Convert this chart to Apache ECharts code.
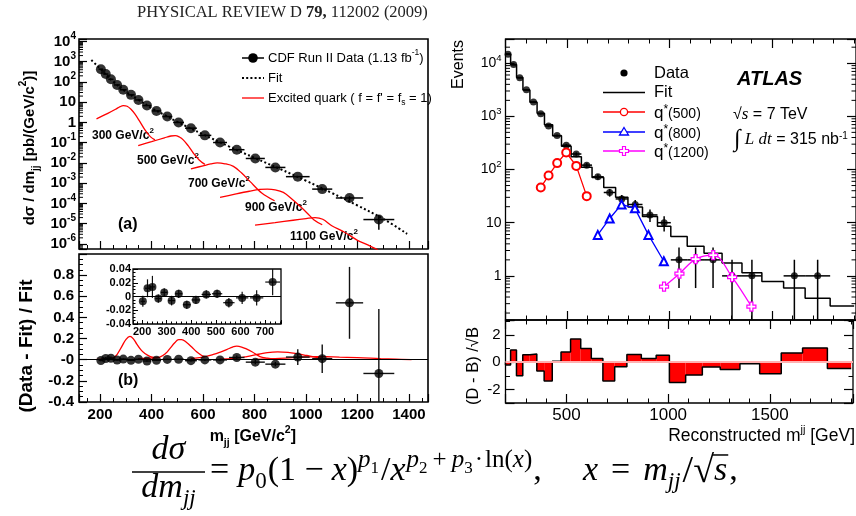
<!DOCTYPE html>
<html>
<head>
<meta charset="utf-8">
<title>Dijet mass spectra: CDF and ATLAS excited-quark searches</title>
<script src="https://cdn.jsdelivr.net/npm/echarts@6.0.0/dist/echarts.min.js"></script>
<style>
html, body { margin: 0; padding: 0; background: #fff; }
#chart { width: 856px; height: 516px; }
</style>
</head>
<body>
<div id="chart"></div>
<script>
const SANS = '"Liberation Sans", Arial, Helvetica, sans-serif';
const SERIF = '"Liberation Serif", "Times New Roman", serif';

// ---------------- CDF Run II (1.13 fb^-1) ----------------
const cdfMass = [203, 222, 242, 266, 290, 320, 349, 382, 419, 461, 505, 553, 607, 666, 731, 803, 881, 968, 1063, 1169, 1283];
const cdfHalfBin = [9, 10, 10, 12, 13, 14, 15, 16, 18, 19, 21, 23, 25, 27, 30, 37, 39, 46, 39, 53, 60];
const cdfXsec = [427, 245, 135, 71, 41, 23, 12.9, 6.8, 3.7, 1.95, 1.0, 0.52, 0.23, 0.102, 0.045, 0.0166, 0.0060, 0.0021, 5.1e-4, 1.86e-4, 1.6e-5];
const cdfXsecErr = [3.4, 3.2, 2.2, 0.43, 0.25, 0.16, 0.08, 0.041, 0.022, 0.012, 0.006, 0.0036, 0.0021, 0.0011, 0.00086, 3.4e-4, 1.2e-4, 1.6e-4, 6.9e-5, 4.2e-5, 1.1e-5];
// (Data - Fit) / Fit
const cdfResid = [-0.007, 0.012, 0.014, -0.003, 0.006, -0.006, 0.004, -0.012, -0.005, 0.003, 0.004, -0.009, -0.002, -0.002, 0.021, -0.023, -0.042, 0.025, 0.010, 0.538, -0.13];
const cdfResidErr = [0.008, 0.013, 0.016, 0.006, 0.006, 0.007, 0.006, 0.006, 0.006, 0.006, 0.006, 0.007, 0.009, 0.011, 0.019, 0.02, 0.02, 0.075, 0.135, 0.34, 0.61];
const insetPoints = 15;

// fitted spectrum
const fitMass = [166, 200, 250, 300, 350, 400, 450, 500, 600, 700, 800, 900, 1000, 1100, 1200, 1300, 1393];
const fitXsec = [1200, 457, 107, 33, 12.9, 5.1, 2.34, 1.07, 0.257, 0.066, 0.0178, 0.0050, 1.32e-3, 3.3e-4, 7.9e-5, 1.74e-5, 3.16e-6];

// excited quark signals, dsigma/dm
const q300Mass = [186, 230, 260, 278, 290, 305, 320, 335, 354, 375, 395, 413];
const q300Xsec = [1.51, 2.82, 4.47, 6.03, 6.76, 6.31, 4.47, 2.63, 1.12, 0.417, 0.20, 0.138];
const q500Mass = [348, 400, 450, 475, 492, 508, 523, 542, 562, 585, 607];
const q500Xsec = [0.072, 0.112, 0.174, 0.214, 0.224, 0.19, 0.138, 0.071, 0.031, 0.0141, 0.0085];
const q700Mass = [553, 600, 630, 655, 685, 718, 750, 782, 828, 878];
const q700Xsec = [5.1e-3, 7.2e-3, 8.9e-3, 1.0e-2, 9.1e-3, 6.8e-3, 3.16e-3, 1.23e-3, 3.3e-4, 1.35e-4];
const q900Mass = [666, 720, 780, 820, 850, 880, 912, 945, 977, 1005, 1030, 1063];
const q900Xsec = [2.0e-4, 2.8e-4, 4.0e-4, 4.9e-4, 5.1e-4, 4.7e-4, 3.5e-4, 1.66e-4, 7.2e-5, 3.3e-5, 1.58e-5, 8.9e-6];
const q1100Mass = [802, 880, 950, 1000, 1035, 1065, 1100, 1150, 1200, 1240, 1280];
const q1100Xsec = [8.5e-6, 1.12e-5, 1.48e-5, 1.78e-5, 2.0e-5, 1.66e-5, 7.9e-6, 3.8e-6, 1.51e-6, 8.9e-7, 5.0e-7];
const qLabels = ['300 GeV/c', '500 GeV/c', '700 GeV/c', '900 GeV/c', '1100 GeV/c'];

// excited quark signals relative to the fit
const r300Mass = [186, 230, 257, 283, 300, 316, 330, 342, 358, 374, 395, 413];
const r300Val = [0.003, 0.01, 0.025, 0.12, 0.19, 0.22, 0.195, 0.15, 0.095, 0.058, 0.03, 0.02];
const r500Mass = [348, 400, 432, 455, 471, 490, 505, 517, 535, 556, 575, 595, 607];
const r500Val = [0.01, 0.015, 0.025, 0.06, 0.105, 0.16, 0.19, 0.19, 0.165, 0.12, 0.075, 0.04, 0.03];
const r700Mass = [553, 600, 640, 670, 692, 715, 731, 750, 770, 790, 821, 850, 878];
const r700Val = [0.01, 0.025, 0.05, 0.075, 0.096, 0.12, 0.128, 0.12, 0.1, 0.075, 0.03, 0.015, 0.008];
const r900Mass = [666, 720, 770, 810, 850, 890, 930, 964, 1003, 1035, 1063];
const r900Val = [0.005, 0.012, 0.03, 0.05, 0.068, 0.075, 0.07, 0.058, 0.04, 0.025, 0.015];
const r1100Mass = [802, 880, 950, 1000, 1040, 1080, 1130, 1200, 1290, 1350, 1410];
const r1100Val = [0.003, 0.01, 0.02, 0.026, 0.03, 0.028, 0.024, 0.02, 0.01, 0.005, 0.0];

// ---------------- ATLAS, sqrt(s) = 7 TeV, 315 nb^-1 ----------------
const atlasEdges = [200, 225, 254, 285, 319, 354, 390, 430, 473, 520, 570, 622, 679, 737, 797, 868, 941, 1006, 1086, 1168, 1256, 1353, 1450, 1556, 1661, 1783, 1900];
const atlasEvents = [14800, 9400, 5300, 3150, 1870, 1120, 660, 435, 286, 196, 121, 73, 37, 28, 22, 14, 10, 2, 2, 2, 1, 1, 0, 1, 1, 0];
const atlasEventsErr = [122, 97, 73, 56, 43, 33.5, 25.7, 20.9, 16.9, 14, 11, 8.5, 6.1, 5.3, 4.7, 3.7, 3.2, 1.41, 1.41, 1.41, 1, 1, 0, 1, 1, 0];
const atlasFit = [14820, 9310, 5370, 3120, 1845, 1140, 695, 434, 273, 173, 110, 71, 46, 30, 19.8, 13.1, 8.6, 5.5, 3.6, 2.65, 1.75, 1.15, 0.78, 0.59, 0.38, 0.27];
const atlasSignif = [-0.2, 0.9, -1.0, 0.55, 0.6, -0.65, -1.38, 0.07, 0.75, 1.7, 1.0, 0.27, -1.38, -0.34, 0.56, 0.27, 0.51, -1.5, -0.95, -0.36, -0.53, -0.12, -0.85, 0.68, 1.05, -0.46];
const qs500Mass = [372, 410, 452, 496, 545, 596];
const qs500Events = [46, 77, 132, 209, 117, 31.6];
const qs800Mass = [650, 708, 766, 831, 897, 972];
const qs800Events = [5.9, 12.0, 22.1, 18.6, 5.9, 1.88];
const qs1200Mass = [973, 1048, 1127, 1213, 1305, 1399];
const qs1200Events = [0.63, 1.1, 2.06, 2.45, 0.95, 0.265];

// ---------------- helpers ----------------
const lg = Math.log10;
const RED = '#ff0000', BLUE = '#0000ff', MAGENTA = '#ff00ff';
const CDF_X = [118, 1474];
const CDF_Y = [-6.25, 4.12];
const ATLAS_X = [200, 1909];
const ATLAS_Y = [-0.83, 4.455];
const CROSS = 'path://M-1,-3L1,-3L1,-1L3,-1L3,1L1,1L1,3L-1,3L-1,1L-3,1L-3,-1L-1,-1Z';

function errorBars(color, width) {
  return function (params, api) {
    const x = api.value(0), y = api.value(1);
    const a = api.coord([api.value(2), y]), b = api.coord([api.value(3), y]);
    const c = api.coord([x, api.value(4)]), d = api.coord([x, api.value(5)]);
    const st = { stroke: color, lineWidth: width };
    return { type: 'group', children: [
      { type: 'line', shape: { x1: a[0], y1: a[1], x2: b[0], y2: b[1] }, style: st },
      { type: 'line', shape: { x1: c[0], y1: c[1], x2: d[0], y2: d[1] }, style: st }
    ] };
  };
}

function logMinor(lo, hi) {
  const out = [];
  for (let e = Math.floor(lo); e <= Math.ceil(hi); e++) {
    for (let k = 2; k <= 9; k++) {
      const v = e + lg(k);
      if (v > lo && v < hi) out.push(v);
    }
  }
  return out;
}

// minor ticks of a log10 axis, drawn at the frame edges
function tickSeries(xi, yi, edges, yr, len) {
  const data = [];
  logMinor(yr[0], yr[1]).forEach(v => edges.forEach(e => data.push([e[0], v, e[1], len])));
  return {
    type: 'custom', xAxisIndex: xi, yAxisIndex: yi, silent: true, clip: false,
    encode: { x: 0, y: 1 }, data: data, z: 5,
    renderItem: (params, api) => {
      const p = api.coord([api.value(0), api.value(1)]);
      return { type: 'line', shape: { x1: p[0], y1: p[1], x2: p[0] + api.value(2) * api.value(3), y2: p[1] },
        style: { stroke: '#000', lineWidth: 1 } };
    }
  };
}

function powLabel(v) {
  const n = Math.round(v);
  if (Math.abs(v - n) > 1e-6) return '';
  if (n === 0) return '{m|1}';
  if (n === 1) return '{m|10}';
  return '{m|10}{s|' + n + '}';
}

function valueAxis(extra) {
  return Object.assign({
    type: 'value',
    axisLine: { show: false, onZero: false },
    splitLine: { show: false },
    axisTick: { show: true, inside: true, length: 8, lineStyle: { color: '#000', width: 1.2 } },
    minorTick: { show: false },
    axisLabel: { show: false }
  }, extra);
}
const minor = (n, len) => ({ show: true, splitNumber: n, length: len, lineStyle: { color: '#000', width: 1 } });
const boldLabel = (size, fmt, margin) => ({ show: true, color: '#000', fontFamily: SANS, fontWeight: 'bold', fontSize: size, formatter: fmt, margin: margin });
const atlasTick = { show: true, inside: true, length: 9, lineStyle: { color: '#000', width: 1.2 } };

// ---------------- series ----------------
const series = [];

// (a) fit
series.push({
  type: 'line', xAxisIndex: 0, yAxisIndex: 0, showSymbol: false, smooth: 0.4, z: 3,
  data: fitMass.map((m, i) => [m, lg(fitXsec[i])]),
  lineStyle: { color: '#000', width: 2, type: [2, 2.4] }
});
// (a) excited quark curves
[[q300Mass, q300Xsec], [q500Mass, q500Xsec], [q700Mass, q700Xsec], [q900Mass, q900Xsec], [q1100Mass, q1100Xsec]].forEach(pair => {
  series.push({
    type: 'line', xAxisIndex: 0, yAxisIndex: 0, showSymbol: false, smooth: 0.35, z: 3,
    data: pair[0].map((m, i) => [m, lg(pair[1][i])]),
    lineStyle: { color: RED, width: 1.3 }
  });
});
// (a) data
series.push({
  type: 'custom', xAxisIndex: 0, yAxisIndex: 0, clip: true, z: 4, encode: { x: 0, y: 1 },
  renderItem: errorBars('#000', 1.5),
  data: cdfMass.map((m, i) => [m, lg(cdfXsec[i]), m - cdfHalfBin[i], m + cdfHalfBin[i],
    cdfXsec[i] - cdfXsecErr[i] > 0 ? lg(cdfXsec[i] - cdfXsecErr[i]) : -20, lg(cdfXsec[i] + cdfXsecErr[i])])
});
series.push({
  type: 'scatter', xAxisIndex: 0, yAxisIndex: 0, symbolSize: 10, z: 5,
  itemStyle: { color: '#000' },
  data: cdfMass.map((m, i) => [m, lg(cdfXsec[i])])
});
series.push(tickSeries(0, 0, [[CDF_X[0], 1]], CDF_Y, 4));

// (b) signal / fit curves
[[r300Mass, r300Val], [r500Mass, r500Val], [r700Mass, r700Val], [r900Mass, r900Val], [r1100Mass, r1100Val]].forEach(pair => {
  series.push({
    type: 'line', xAxisIndex: 1, yAxisIndex: 1, showSymbol: false, smooth: 0.4, z: 3,
    data: pair[0].map((m, i) => [m, pair[1][i]]),
    lineStyle: { color: RED, width: 1.3 }
  });
});
series.push({
  type: 'custom', xAxisIndex: 1, yAxisIndex: 1, clip: true, z: 4, encode: { x: 0, y: 1 },
  renderItem: errorBars('#111', 1.4),
  data: cdfMass.map((m, i) => [m, cdfResid[i], m - cdfHalfBin[i], m + cdfHalfBin[i], cdfResid[i] - cdfResidErr[i], cdfResid[i] + cdfResidErr[i]])
});
series.push({
  type: 'scatter', xAxisIndex: 1, yAxisIndex: 1, symbolSize: 9, z: 5,
  itemStyle: { color: '#000' },
  data: cdfMass.map((m, i) => [m, cdfResid[i]]),
  markLine: { silent: true, symbol: 'none', label: { show: false }, animation: false,
    lineStyle: { color: '#000', width: 1.2, type: 'solid' }, data: [{ yAxis: 0 }] }
});

// inset: low-mass residuals
series.push({
  type: 'custom', xAxisIndex: 2, yAxisIndex: 2, clip: true, z: 4, encode: { x: 0, y: 1 },
  renderItem: errorBars('#111', 1.2),
  data: cdfMass.slice(0, insetPoints).map((m, i) => [m, cdfResid[i], m - cdfHalfBin[i], m + cdfHalfBin[i], cdfResid[i] - cdfResidErr[i], cdfResid[i] + cdfResidErr[i]])
});
series.push({
  type: 'scatter', xAxisIndex: 2, yAxisIndex: 2, symbolSize: 8, z: 5,
  itemStyle: { color: '#000' },
  data: cdfMass.slice(0, insetPoints).map((m, i) => [m, cdfResid[i]]),
  markLine: { silent: true, symbol: 'none', label: { show: false }, animation: false,
    lineStyle: { color: '#000', width: 1.1, type: 'solid' }, data: [{ yAxis: 0 }] }
});

// ATLAS: fit histogram
const fitSteps = [];
atlasFit.forEach((f, i) => { fitSteps.push([atlasEdges[i], lg(f)], [atlasEdges[i + 1], lg(f)]); });
series.push({
  type: 'line', xAxisIndex: 3, yAxisIndex: 3, showSymbol: false, z: 3,
  data: fitSteps, lineStyle: { color: '#000', width: 1.5 }
});
// ATLAS: data
const atlasIdx = atlasEvents.map((n, i) => i).filter(i => atlasEvents[i] > 0);
const binCenter = i => (atlasEdges[i] + atlasEdges[i + 1]) / 2;
series.push({
  type: 'custom', xAxisIndex: 3, yAxisIndex: 3, clip: true, z: 4, encode: { x: 0, y: 1 },
  renderItem: errorBars('#000', 1.5),
  data: atlasIdx.map(i => {
    const n = atlasEvents[i], e = atlasEventsErr[i];
    return [binCenter(i), lg(n), atlasEdges[i], atlasEdges[i + 1], n - e > 0.01 ? lg(n - e) : -20, lg(n + e)];
  })
});
series.push({
  type: 'scatter', xAxisIndex: 3, yAxisIndex: 3, symbolSize: 7, z: 5,
  itemStyle: { color: '#000' },
  data: atlasIdx.map(i => [binCenter(i), lg(atlasEvents[i])])
});
// ATLAS: excited quark signals
series.push({
  type: 'line', xAxisIndex: 3, yAxisIndex: 3, z: 6, symbol: 'emptyCircle', symbolSize: 8,
  data: qs500Mass.map((m, i) => [m, lg(qs500Events[i])]),
  lineStyle: { color: RED, width: 1.3 }, itemStyle: { color: RED, borderWidth: 1.3 }
});
series.push({
  type: 'line', xAxisIndex: 3, yAxisIndex: 3, z: 6, symbol: 'emptyTriangle', symbolSize: 8,
  data: qs800Mass.map((m, i) => [m, lg(qs800Events[i])]),
  lineStyle: { color: BLUE, width: 1.3 }, itemStyle: { color: BLUE, borderWidth: 1.3 }
});
series.push({
  type: 'line', xAxisIndex: 3, yAxisIndex: 3, z: 6, symbol: CROSS, symbolSize: 9, smooth: 0.35,
  data: qs1200Mass.map((m, i) => [m, lg(qs1200Events[i])]),
  lineStyle: { color: MAGENTA, width: 1.3 }, itemStyle: { color: '#fff', borderColor: MAGENTA, borderWidth: 1.2 }
});
series.push(tickSeries(3, 3, [[ATLAS_X[0], 1], [ATLAS_X[1], -1]], ATLAS_Y, 4.5));

// ATLAS: significance histogram
series.push({
  type: 'custom', xAxisIndex: 5, yAxisIndex: 5, clip: true, z: 3, encode: { x: [0, 1], y: 2 },
  data: atlasSignif.map((s, i) => [atlasEdges[i], atlasEdges[i + 1], s]),
  renderItem: (params, api) => {
    const p0 = api.coord([api.value(0), 0]), p1 = api.coord([api.value(1), api.value(2)]);
    return { type: 'rect', shape: { x: p0[0], y: Math.min(p0[1], p1[1]), width: p1[0] - p0[0], height: Math.abs(p1[1] - p0[1]) },
      style: { fill: RED } };
  }
});
const sigSteps = [[atlasEdges[0], 0]];
atlasSignif.forEach((s, i) => { sigSteps.push([atlasEdges[i], s], [atlasEdges[i + 1], s]); });
series.push({
  type: 'line', xAxisIndex: 5, yAxisIndex: 5, showSymbol: false, z: 4,
  data: sigSteps, lineStyle: { color: '#000', width: 1.5 },
  markLine: { silent: true, symbol: 'none', label: { show: false }, animation: false,
    lineStyle: { color: '#ffb0b0', width: 2, type: 'solid' }, data: [{ yAxis: 0 }] }
});

// ---------------- text layout helpers ----------------
const measureCtx = document.createElement('canvas').getContext('2d');
function partWidth(p) {
  measureCtx.font = (p[2] === 'i' ? 'italic ' : '') + p[1] + 'px "Liberation Serif"';
  return measureCtx.measureText(p[0]).width + (p[4] || 0);
}
// lays out a run of formula pieces: [text, size, 'i'|'n', baseline shift, gap after]
function mathRun(x0, base, parts) {
  const els = [];
  let x = x0;
  parts.forEach(p => {
    const t = p[0], size = p[1], it = p[2] === 'i', dy = p[3] || 0;
    els.push({ type: 'text', x: x, y: base + dy - 0.34 * size,
      style: { text: t, fontFamily: SERIF, fontSize: size, fontStyle: it ? 'italic' : 'normal', fill: '#000', align: 'left', verticalAlign: 'middle' } });
    x += partWidth(p);
  });
  return { els: els, end: x };
}
const runWidth = parts => parts.reduce((w, p) => w + partWidth(p), 0);

const graphics = [];
const T = (x, y, text, rich, extra, align) => graphics.push(Object.assign({ type: 'text', x: x, y: y,
  style: { text: text, rich: rich, fill: '#000', align: align || 'left', verticalAlign: 'middle' } }, extra || {}));

// header
T(137, 13, '{n|PHYSICAL REVIEW D }{b|79,}{n| 112002 (2009)}', {
  n: { fontFamily: SERIF, fontSize: 16.5, fill: '#222' },
  b: { fontFamily: SERIF, fontSize: 16.5, fontWeight: 'bold', fill: '#222' }
});

// CDF panel labels
const qRich = { t: { fontFamily: SANS, fontSize: 12, fontWeight: 'bold', padding: [3, 0, 3, 0] },
                s: { fontFamily: SANS, fontSize: 8, fontWeight: 'bold', verticalAlign: 'top' } };
const qLabelPos = [[92, 136], [137, 161], [188, 184], [245, 208], [290, 237]];
qLabels.forEach((l, i) => T(qLabelPos[i][0], qLabelPos[i][1], '{t|' + l + '}{s|2}', qRich));
const panelRich = { t: { fontFamily: SANS, fontSize: 16, fontWeight: 'bold' } };
T(118, 225, '{t|(a)}', panelRich);
T(118, 381, '{t|(b)}', panelRich);

// CDF legend
graphics.push({ type: 'line', shape: { x1: 242, y1: 58, x2: 264, y2: 58 }, style: { stroke: '#000', lineWidth: 1.5 } });
graphics.push({ type: 'circle', shape: { cx: 253, cy: 58, r: 4.8 }, style: { fill: '#000' } });
graphics.push({ type: 'line', shape: { x1: 242, y1: 78, x2: 264, y2: 78 }, style: { stroke: '#000', lineWidth: 2, lineDash: [2, 2.2] } });
graphics.push({ type: 'line', shape: { x1: 242, y1: 98, x2: 264, y2: 98 }, style: { stroke: RED, lineWidth: 1.3 } });
const legRich = { t: { fontFamily: SANS, fontSize: 13, padding: [3, 0, 3, 0] },
                  s: { fontFamily: SANS, fontSize: 8.5, verticalAlign: 'top' },
                  u: { fontFamily: SANS, fontSize: 8.5, verticalAlign: 'bottom' } };
T(268, 58, '{t|CDF Run II Data (1.13 fb}{s|-1}{t|)}', legRich);
T(268, 78, '{t|Fit}', legRich);
T(268, 98, "{t|Excited quark ( f = f' = f}{u|s}{t| = 1)}", legRich);

// CDF axis titles
T(30, 148, '{b|d\u03C3 / dm}{u|jj}{b| [pb/(GeV/c}{s|2}{b|)]}', {
  b: { fontFamily: SANS, fontSize: 15, fontWeight: 'bold', padding: [4, 0, 4, 0] },
  u: { fontFamily: SANS, fontSize: 10, fontWeight: 'bold', verticalAlign: 'bottom' },
  s: { fontFamily: SANS, fontSize: 10, fontWeight: 'bold', verticalAlign: 'top' }
}, { rotation: Math.PI / 2 }, 'center');
T(27, 346, '{b|(Data - Fit) / Fit}', { b: { fontFamily: SANS, fontSize: 19, fontWeight: 'bold' } }, { rotation: Math.PI / 2 }, 'center');
T(296, 437, '{b|m}{u|jj}{b| [GeV/c}{s|2}{b|]}', {
  b: { fontFamily: SANS, fontSize: 16, fontWeight: 'bold', padding: [4, 0, 4, 0] },
  u: { fontFamily: SANS, fontSize: 10.5, fontWeight: 'bold', verticalAlign: 'bottom' },
  s: { fontFamily: SANS, fontSize: 10.5, fontWeight: 'bold', verticalAlign: 'top' }
}, null, 'right');

// ATLAS legend
graphics.push({ type: 'circle', shape: { cx: 624, cy: 73, r: 3.6 }, style: { fill: '#000' } });
graphics.push({ type: 'line', shape: { x1: 603, y1: 92.5, x2: 645, y2: 92.5 }, style: { stroke: '#000', lineWidth: 1.5 } });
graphics.push({ type: 'line', shape: { x1: 603, y1: 112, x2: 645, y2: 112 }, style: { stroke: RED, lineWidth: 1.3 } });
graphics.push({ type: 'circle', shape: { cx: 624, cy: 112, r: 3.6 }, style: { fill: '#fff', stroke: RED, lineWidth: 1.3 } });
graphics.push({ type: 'line', shape: { x1: 603, y1: 132, x2: 645, y2: 132 }, style: { stroke: BLUE, lineWidth: 1.3 } });
graphics.push({ type: 'polygon', shape: { points: [[624, 127.5], [628.5, 135], [619.5, 135]] }, style: { fill: '#fff', stroke: BLUE, lineWidth: 1.3 } });
graphics.push({ type: 'line', shape: { x1: 603, y1: 151, x2: 645, y2: 151 }, style: { stroke: MAGENTA, lineWidth: 1.3 } });
graphics.push({ type: 'polygon', shape: { points: [[622.5, 146.5], [625.5, 146.5], [625.5, 149.5], [628.5, 149.5], [628.5, 152.5], [625.5, 152.5], [625.5, 155.5], [622.5, 155.5], [622.5, 152.5], [619.5, 152.5], [619.5, 149.5], [622.5, 149.5]] }, style: { fill: '#fff', stroke: MAGENTA, lineWidth: 1.2 } });
const aRich = { n: { fontFamily: SANS, fontSize: 16.5 } };
T(654, 73, '{n|Data}', aRich);
T(654, 92.5, '{n|Fit}', aRich);
const qsRich = { q: { fontFamily: SANS, fontSize: 17, padding: [2, 0, 0, 0] },
                 st: { fontFamily: SANS, fontSize: 12, verticalAlign: 'top', padding: [1, 0, 0, 0] },
                 p: { fontFamily: SANS, fontSize: 14, padding: [4, 0, 0, 0] } };
T(654, 112, '{q|q}{st|*}{p|(500)}', qsRich);
T(654, 132, '{q|q}{st|*}{p|(800)}', qsRich);
T(654, 151, '{q|q}{st|*}{p|(1200)}', qsRich);

// ATLAS labels
T(737, 79, '{b|ATLAS}', { b: { fontFamily: SANS, fontSize: 20, fontWeight: 'bold', fontStyle: 'italic' } });
T(733, 115, '{n|\u221A}{i|s}{n| = 7 TeV}', {
  n: { fontFamily: SANS, fontSize: 16 }, i: { fontFamily: SERIF, fontSize: 17, fontStyle: 'italic' } });
T(734, 140, '{g|\u222B}{i| L dt}{n| = 315 nb}{s|-1}', {
  g: { fontFamily: SERIF, fontSize: 24 }, i: { fontFamily: SERIF, fontSize: 17, fontStyle: 'italic' },
  n: { fontFamily: SANS, fontSize: 16 }, s: { fontFamily: SANS, fontSize: 10, verticalAlign: 'top', padding: [3, 0, 0, 0] } });
T(459, 40, '{n|Events}', { n: { fontFamily: SANS, fontSize: 16 } }, { rotation: Math.PI / 2 }, 'right');
T(473, 366, '{n|(D - B) /\u221AB}', { n: { fontFamily: SANS, fontSize: 16.5 } }, { rotation: Math.PI / 2 }, 'center');
T(855, 436, '{n|Reconstructed m}{s|jj}{n| [GeV]}', {
  n: { fontFamily: SANS, fontSize: 17.5, padding: [3, 0, 3, 0] }, s: { fontFamily: SANS, fontSize: 11, verticalAlign: 'top' } }, null, 'right');

// dijet fit function
const F = 34, FS = 25, FSS = 17, FSUB = 23, FR = 38;
const numParts = [['d', F, 'i'], ['\u03C3', F, 'i']];
const denParts = [['dm', F, 'i'], ['jj', FSUB, 'i', 7]];
const fracL = 132, fracR = 205, fracC = (fracL + fracR) / 2;
mathRun(fracC - runWidth(numParts) / 2, 462, numParts).els.forEach(e => graphics.push(e));
mathRun(fracC - runWidth(denParts) / 2, 500, denParts).els.forEach(e => graphics.push(e));
graphics.push({ type: 'line', shape: { x1: fracL, y1: 472, x2: fracR, y2: 472 }, style: { stroke: '#000', lineWidth: 1.5 } });
const rhs = mathRun(210, 483, [
  ['=', F, 'n', 0, 9], ['p', F, 'i'], ['0', FSUB, 'n', 7, 1], ['(1 ', F, 'n'], ['\u2212', F, 'n', 0, 8], ['x', F, 'i'], [')', F, 'n'],
  ['p', FS, 'i', -14], ['1', FSS, 'n', -9, 2], ['/', F, 'n'], ['x', F, 'i', 0, 1],
  ['p', FS, 'i', -14], ['2', FSS, 'n', -9, 5], ['+', FS, 'n', -14, 5], ['p', FS, 'i', -14], ['3', FSS, 'n', -9, 2], ['\u00B7', FS, 'n', -14, 2], ['ln(', FS, 'n', -14],
  ['x', FS, 'i', -14], [')', FS, 'n', -14, 1], [',', F, 'n']
]);
rhs.els.forEach(e => graphics.push(e));
const xdef = mathRun(583, 483, [
  ['x', F, 'i', 0, 13], ['=', F, 'n', 0, 13], ['m', F, 'i'], ['jj', FSUB, 'i', 7, 2], ['/', FR, 'n', 2], ['\u221A', FR, 'n', 2], ['s', F, 'i', 0, 2], [',', F, 'n']
]);
xdef.els.forEach(e => graphics.push(e));
{
  const rEl = xdef.els[5], sEl = xdef.els[6];
  const sw = partWidth(['s', F, 'i']);
  const yTop = 483 + 2 - 0.79 * FR;
  graphics.push({ type: 'line', shape: { x1: rEl.x + partWidth(['\u221A', FR, 'n']) - 2, y1: yTop, x2: sEl.x + sw + 1, y2: yTop }, style: { stroke: '#000', lineWidth: 1.5 } });
}

// ---------------- option ----------------
const option = {
  animation: false,
  backgroundColor: '#fff',
  textStyle: { fontFamily: SANS },
  grid: [
    { left: 79, top: 39, width: 349, height: 210, show: true, borderColor: '#000', borderWidth: 1.6, backgroundColor: 'transparent' },
    { left: 79, top: 254, width: 349, height: 148, show: true, borderColor: '#000', borderWidth: 1.6, backgroundColor: 'transparent' },
    { left: 133, top: 269, width: 148, height: 55, show: true, borderColor: '#000', borderWidth: 1.3, backgroundColor: '#fff' },
    { left: 505.5, top: 39, width: 352, height: 281, show: true, borderColor: '#000', borderWidth: 1.3, backgroundColor: 'transparent' },
    { left: 505.5, top: 320, width: 352, height: 83, show: true, borderColor: '#000', borderWidth: 1.3, backgroundColor: 'transparent' }
  ],
  xAxis: [
    valueAxis({ gridIndex: 0, min: CDF_X[0], max: CDF_X[1], splitNumber: 7, minorTick: minor(4, 4) }),
    valueAxis({ gridIndex: 1, min: CDF_X[0], max: CDF_X[1], splitNumber: 7, minorTick: minor(4, 4),
      axisLabel: boldLabel(15, v => (v % 200 === 0 ? String(v) : ''), 5) }),
    valueAxis({ gridIndex: 2, min: 163, max: 765, splitNumber: 6, minorTick: minor(5, 2.5),
      axisTick: { show: true, inside: true, length: 4, lineStyle: { color: '#000', width: 1 } },
      axisLabel: boldLabel(11, v => (v % 100 === 0 ? String(v) : ''), 2) }),
    valueAxis({ gridIndex: 3, min: ATLAS_X[0], max: ATLAS_X[1], splitNumber: 3, minorTick: minor(5, 4.5), axisTick: atlasTick }),
    valueAxis({ gridIndex: 3, position: 'top', min: ATLAS_X[0], max: ATLAS_X[1], splitNumber: 3, minorTick: minor(5, 4.5), axisTick: atlasTick }),
    valueAxis({ gridIndex: 4, min: ATLAS_X[0], max: ATLAS_X[1], splitNumber: 3, minorTick: minor(5, 4.5), axisTick: atlasTick,
      axisLabel: { show: true, color: '#000', fontFamily: SANS, fontSize: 17, margin: 4, formatter: v => (v % 500 === 0 ? String(v) : '') } }),
    valueAxis({ gridIndex: 4, position: 'top', min: ATLAS_X[0], max: ATLAS_X[1], splitNumber: 3, minorTick: minor(5, 4.5), axisTick: atlasTick })
  ],
  yAxis: [
    valueAxis({ gridIndex: 0, min: CDF_Y[0], max: CDF_Y[1], splitNumber: 10,
      axisLabel: { show: true, margin: 3, formatter: powLabel, rich: {
        m: { fontFamily: SANS, fontSize: 15, fontWeight: 'bold', color: '#000', padding: [3, 0, 3, 0] },
        s: { fontFamily: SANS, fontSize: 10, fontWeight: 'bold', color: '#000', verticalAlign: 'top' } } } }),
    valueAxis({ gridIndex: 1, min: -0.4, max: 1.0, interval: 0.2, minorTick: minor(4, 4),
      axisLabel: boldLabel(15, v => (Math.abs(v) < 1e-9 ? '-0' : (v > 0.95 ? '' : v.toFixed(1))), 5) }),
    valueAxis({ gridIndex: 2, min: -0.04, max: 0.04, interval: 0.02, minorTick: minor(4, 2.5),
      axisTick: { show: true, inside: true, length: 5, lineStyle: { color: '#000', width: 1 } },
      axisLabel: boldLabel(11, v => (Math.abs(v) < 1e-9 ? '0' : String(+v.toFixed(2))), 2) }),
    valueAxis({ gridIndex: 3, min: ATLAS_Y[0], max: ATLAS_Y[1], splitNumber: 5, axisTick: atlasTick,
      axisLabel: { show: true, margin: 4, formatter: powLabel, rich: {
        m: { fontFamily: SANS, fontSize: 14, color: '#000', padding: [3, 0, 3, 0] },
        s: { fontFamily: SANS, fontSize: 9.5, color: '#000', verticalAlign: 'top' } } } }),
    valueAxis({ gridIndex: 3, position: 'right', min: ATLAS_Y[0], max: ATLAS_Y[1], splitNumber: 5, axisTick: atlasTick }),
    valueAxis({ gridIndex: 4, min: -3, max: 3.1, splitNumber: 3, minorTick: minor(2, 4.5), axisTick: atlasTick,
      axisLabel: { show: true, color: '#000', fontFamily: SANS, fontSize: 15, margin: 5, formatter: v => ([-2, 0, 2].indexOf(v) >= 0 ? String(v) : '') } }),
    valueAxis({ gridIndex: 4, position: 'right', min: -3, max: 3.1, splitNumber: 3, minorTick: minor(2, 4.5), axisTick: atlasTick })
  ],
  series: series,
  graphic: { elements: graphics }
};

const chart = echarts.init(document.getElementById('chart'), null, { renderer: 'canvas' });
chart.setOption(option);
</script>
</body>
</html>
